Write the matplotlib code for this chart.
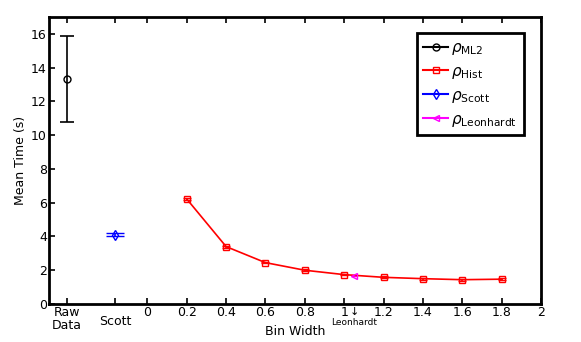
import numpy as np
import matplotlib
matplotlib.use("Agg")
import matplotlib.pyplot as plt
from matplotlib.lines import Line2D

# --- Data ---
ml2_x, ml2_y, ml2_err = -0.41, 13.35, 2.55
scott_x, scott_y, scott_err = -0.165, 4.1, 0.1
hist_w = [0.2, 0.4, 0.6, 0.8, 1.0, 1.2, 1.4, 1.6, 1.8]
hist_t = [6.22, 3.40, 2.45, 2.00, 1.74, 1.58, 1.50, 1.44, 1.47]
hist_err = [0.07, 0.06, 0.05, 0.05, 0.05, 0.05, 0.05, 0.05, 0.05]
leon_x, leon_y, leon_err = 1.05, 1.68, 0.05

num_ticks = [0, 0.2, 0.4, 0.6, 0.8, 1.0, 1.2, 1.4, 1.6, 1.8, 2.0]
num_labels = ["0", "0.2", "0.4", "0.6", "0.8", "1", "1.2", "1.4", "1.6", "1.8", "2"]

plt.rcParams["font.family"] = "DejaVu Sans"
plt.rcParams["font.size"] = 9

fig = plt.figure(figsize=(5.81, 3.42), dpi=100)
ax = fig.add_axes([49 / 581, 1 - 304 / 342, 492 / 581, 287 / 342])

ax.errorbar(ml2_x, ml2_y, yerr=ml2_err, color="black", marker="o", mfc="none", ms=5,
            capsize=5, elinewidth=1.2, capthick=1.2)
ax.errorbar(hist_w, hist_t, yerr=hist_err, color="red", marker="s", mfc="none", ms=5,
            capsize=3, lw=1.2)
ax.errorbar(scott_x, scott_y, yerr=scott_err, color="blue", marker="d", mfc="none", ms=5,
            capsize=6.5, lw=1.2)
ax.errorbar(leon_x, leon_y, yerr=leon_err, color="magenta", marker="<", mfc="none", ms=5,
            capsize=2, lw=1.2)

ax.set_xlim(-0.5, 2.0)
ax.set_ylim(0, 17)
ax.set_yticks(range(0, 17, 2))
ax.set_xticks([ml2_x, scott_x] + num_ticks)
ax.set_xticklabels(["", ""] + num_labels)
ax.tick_params(direction="in", top=True, right=False, length=4, width=1.2, labelsize=9)
ax.tick_params(axis="x", pad=1.5)
ax.tick_params(axis="y", pad=1.5)

xt = ax.get_xaxis_transform()
ax.text(ml2_x, -0.008, "Raw\nData", transform=xt, ha="center", va="top", fontsize=9,
        linespacing=1.0)
ax.text(scott_x, -0.04, "Scott", transform=xt, ha="center", va="top", fontsize=9)
ax.text(leon_x, -0.012, "\u2193", transform=xt, ha="center", va="top", fontsize=8)
ax.text(leon_x, -0.05, "Leonhardt", transform=xt, ha="center", va="top", fontsize=6.5)

for s in ax.spines.values():
    s.set_linewidth(2)

ax.set_xlabel("Bin Width", fontsize=9, labelpad=4)
ax.set_ylabel("Mean Time (s)", fontsize=9, labelpad=3)

handles = [
    Line2D([], [], color="black", marker="o", mfc="none", ms=5),
    Line2D([], [], color="red", marker="s", mfc="none", ms=5),
    Line2D([], [], color="blue", marker="d", mfc="none", ms=5),
    Line2D([], [], color="magenta", marker="<", mfc="none", ms=5),
]
labels = [r"$\rho_{\mathrm{ML2}}$", r"$\rho_{\mathrm{Hist}}$", r"$\rho_{\mathrm{Scott}}$",
          r"$\rho_{\mathrm{Leonhardt}}$"]
leg = ax.legend(handles, labels, loc="upper right", fontsize=11, fancybox=False,
                edgecolor="black", framealpha=1, handlelength=1.6, handletextpad=0.2,
                borderpad=0.45, labelspacing=0.45, borderaxespad=0,
                bbox_to_anchor=(0.965, 0.944))
leg.get_frame().set_linewidth(2)

fig.savefig("out.png", dpi=100)
